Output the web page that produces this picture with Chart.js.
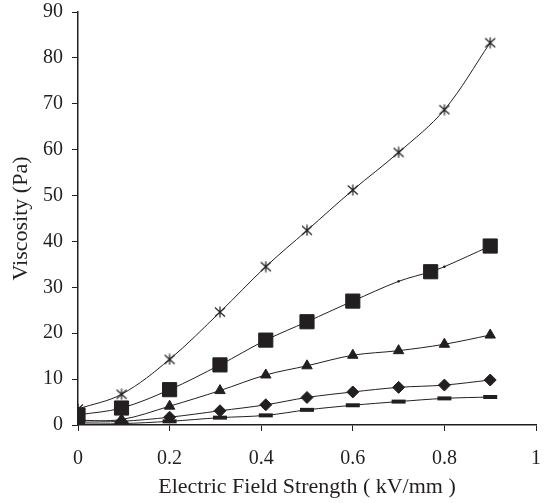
<!DOCTYPE html>
<html>
<head>
<meta charset="utf-8">
<script src="https://cdn.jsdelivr.net/npm/chart.js@4/dist/chart.umd.min.js"></script>
<style>
  html, body { margin: 0; padding: 0; background: #ffffff; }
  #wrap { width: 547px; height: 503px; }
</style>
</head>
<body>
<div id="wrap"><canvas id="viscChart" width="547" height="503"></canvas></div>
<script>
// Field strength (kV/mm) shared by most series
const fieldX = [0, 0.095, 0.2, 0.31, 0.41, 0.5, 0.6, 0.7, 0.8, 0.9];
// square series has two extra small points on its line
const squareX = [0, 0.095, 0.2, 0.31, 0.41, 0.5, 0.6, 0.7, 0.77, 0.8, 0.9];

const starVals = [3.5, 6.7, 14.3, 24.6, 34.5, 42.4, 51.2, 59.4, 68.7, 83.3];
const squareVals = [2.2, 3.7, 7.7, 13.1, 18.5, 22.5, 27.0, 31.3, 33.4, 34.5, 39.0];
const triangleVals = [1.0, 1.2, 4.1, 7.5, 10.9, 12.9, 15.2, 16.2, 17.6, 19.6];
const diamondVals = [0.6, 0.8, 1.7, 3.1, 4.4, 6.0, 7.2, 8.2, 8.7, 9.8];
const dashVals = [0.2, 0.3, 0.8, 1.6, 2.1, 3.3, 4.3, 5.1, 5.8, 6.1];

const xTicks = [0, 0.2, 0.4, 0.6, 0.8, 1];
const yTicks = [0, 10, 20, 30, 40, 50, 60, 70, 80, 90];

const INK = '#231f20';
const FONT = "'Liberation Serif', 'Times New Roman', serif";

// six-armed asterisk marker (an X crossed by a vertical stroke)
function makeAsterisk() {
  const c = document.createElement('canvas');
  c.width = 12; c.height = 12;
  const g = c.getContext('2d');
  g.strokeStyle = INK;
  g.lineWidth = 1.2;
  g.beginPath();
  g.moveTo(1, 1.5); g.lineTo(11, 10.5);
  g.moveTo(11, 1.5); g.lineTo(1, 10.5);
  g.moveTo(6, 0.5); g.lineTo(6, 11.5);
  g.stroke();
  return c;
}

function pts(xs, ys) {
  return xs.map((x, i) => ({ x: x, y: ys[i] }));
}

function series(label, xs, ys, style, radius, extra) {
  return Object.assign({
    label: label,
    data: pts(xs, ys),
    borderColor: INK,
    borderWidth: 1,
    backgroundColor: INK,
    pointStyle: style,
    pointRadius: radius,
    pointBackgroundColor: INK,
    pointBorderColor: INK,
    pointBorderWidth: 1,
    tension: 0.35,
    fill: false
  }, extra || {});
}

// small markers on the square line at 0.7 and 0.8
const squareRadius = squareX.map(x => (x === 0.7 || x === 0.8) ? 1 : 10);

const ctx = document.getElementById('viscChart').getContext('2d');
new Chart(ctx, {
  type: 'line',
  data: {
    datasets: [
      series('dash', fieldX, dashVals, 'line', 7, { pointBorderWidth: 4 }),
      series('diamond', fieldX, diamondVals, 'rectRot', 6),
      series('triangle', fieldX, triangleVals, 'triangle', 6),
      series('square', squareX, squareVals, 'rect', squareRadius),
      series('star', fieldX, starVals, makeAsterisk(), 6)
    ]
  },
  options: {
    responsive: false,
    animation: false,
    layout: { padding: { top: 12, right: 2, left: 0, bottom: 0 } },
    plugins: {
      legend: { display: false },
      tooltip: { enabled: false }
    },
    scales: {
      x: {
        type: 'linear',
        min: 0,
        max: 1,
        afterBuildTicks: s => { s.ticks = xTicks.map(v => ({ value: v })); },
        afterFit: s => { s.height = 78; s.paddingLeft = 0; s.paddingRight = 0; },
        border: { display: true, color: INK, width: 1.5 },
        grid: { display: true, drawOnChartArea: false, drawTicks: true, tickLength: 6, color: INK, lineWidth: 1 },
        ticks: {
          color: INK,
          padding: 16,
          maxRotation: 0,
          font: { family: FONT, size: 20 },
          callback: v => String(v)
        },
        title: {
          display: true,
          text: 'Electric Field Strength ( kV/mm )',
          color: INK,
          font: { family: FONT, size: 22 },
          padding: { top: 0, bottom: 3 }
        }
      },
      y: {
        type: 'linear',
        min: 0,
        max: 90,
        afterBuildTicks: s => { s.ticks = yTicks.map(v => ({ value: v })); },
        afterFit: s => { s.width = 78; s.paddingTop = 0; s.paddingBottom = 0; },
        border: { display: true, color: INK, width: 1.5 },
        grid: { display: true, drawOnChartArea: false, drawTicks: true, tickLength: 6, color: INK, lineWidth: 1 },
        ticks: {
          color: INK,
          padding: 9,
          font: { family: FONT, size: 20 },
          callback: v => String(v)
        },
        title: {
          display: true,
          text: 'Viscosity (Pa)',
          color: INK,
          font: { family: FONT, size: 22 },
          padding: { top: 8, bottom: 0 }
        }
      }
    }
  }
});
</script>
</body>
</html>
